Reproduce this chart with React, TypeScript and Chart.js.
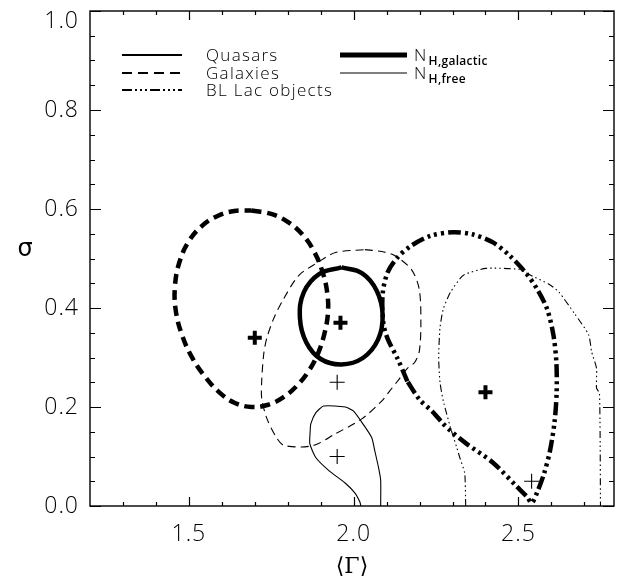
import React, { useEffect, useRef } from "react";
import { Chart, registerables } from "chart.js";

Chart.register(...registerables);

// ---------- data ----------
type P = { x: number; y: number };
const mk = (a: number[][]): P[] => a.map(([x, y]) => ({ x, y }));

const galaxiesGalactic = mk([
  [1.69, 0.597], [1.75, 0.59], [1.8, 0.574], [1.845, 0.548], [1.88, 0.514],
  [1.906, 0.472], [1.92, 0.43], [1.922, 0.39], [1.912, 0.35], [1.893, 0.31],
  [1.865, 0.274], [1.828, 0.243], [1.785, 0.219], [1.738, 0.204], [1.69, 0.2],
  [1.64, 0.208], [1.595, 0.228], [1.553, 0.258], [1.513, 0.296], [1.48, 0.344],
  [1.46, 0.396], [1.458, 0.446], [1.472, 0.494], [1.5, 0.535], [1.54, 0.566],
  [1.587, 0.586], [1.638, 0.596], [1.69, 0.597],
]);

const quasarsGalactic = mk([
  [1.963, 0.482], [2.026, 0.47], [2.07, 0.435], [2.088, 0.386], [2.074, 0.336],
  [2.028, 0.299], [1.963, 0.286], [1.9, 0.297], [1.856, 0.331], [1.837, 0.38],
  [1.849, 0.432], [1.896, 0.469], [1.963, 0.482],
]);

const blLacGalactic = mk([
  [2.163, 0.252], [2.133, 0.298], [2.103, 0.338], [2.09, 0.37], [2.088, 0.428],
  [2.103, 0.472], [2.133, 0.502], [2.175, 0.526], [2.234, 0.546], [2.3, 0.553],
  [2.36, 0.549], [2.424, 0.532], [2.473, 0.506], [2.521, 0.472], [2.557, 0.438],
  [2.587, 0.398], [2.606, 0.346], [2.615, 0.292], [2.616, 0.232], [2.61, 0.172],
  [2.596, 0.112], [2.578, 0.066], [2.557, 0.028], [2.54, 0.006], [2.527, 0.018],
  [2.497, 0.038], [2.422, 0.088], [2.342, 0.126], [2.294, 0.152], [2.272, 0.166],
  [2.24, 0.19], [2.2, 0.215], [2.163, 0.252],
]);

const galaxiesFree = mk([
  [2.034, 0.518], [2.085, 0.514], [2.124, 0.506], [2.175, 0.478], [2.199, 0.438],
  [2.204, 0.366], [2.199, 0.312], [2.185, 0.29], [2.163, 0.278], [2.133, 0.252],
  [2.109, 0.232], [2.085, 0.212], [2.025, 0.176], [1.945, 0.146], [1.876, 0.122],
  [1.79, 0.122], [1.766, 0.138], [1.736, 0.178], [1.721, 0.218], [1.721, 0.252],
  [1.727, 0.306], [1.736, 0.338], [1.757, 0.378], [1.787, 0.418], [1.834, 0.466],
  [1.891, 0.492], [1.945, 0.512], [2.034, 0.518],
]);

const quasarsFree = mk([
  [2.022, 0.0], [2.019, 0.008], [2.004, 0.026], [1.975, 0.046], [1.924, 0.072],
  [1.885, 0.098], [1.867, 0.126], [1.868, 0.15], [1.87, 0.166], [1.885, 0.188],
  [1.909, 0.202], [1.975, 0.2], [1.999, 0.192], [2.028, 0.166], [2.055, 0.138],
  [2.064, 0.112], [2.076, 0.076], [2.082, 0.052], [2.082, 0.0],
]);

const blLacFree = mk([
  [2.34, 0.0], [2.337, 0.066], [2.322, 0.098], [2.313, 0.118], [2.294, 0.158],
  [2.272, 0.212], [2.262, 0.25], [2.258, 0.3], [2.262, 0.36], [2.272, 0.398],
  [2.294, 0.432], [2.333, 0.466], [2.401, 0.48], [2.502, 0.478], [2.531, 0.468],
  [2.593, 0.448], [2.623, 0.432], [2.671, 0.388], [2.713, 0.346], [2.722, 0.312],
  [2.737, 0.278], [2.737, 0.238], [2.746, 0.228], [2.749, 0.0],
]);

const thickCrosses = mk([[1.7, 0.34], [1.96, 0.37], [2.4, 0.23]]);
const thinCrosses = mk([[1.95, 0.25], [1.95, 0.1], [2.54, 0.05]]);

const xRange = [1.2, 2.79];
const yRange = [0, 1.0];
const xMajorTicks = [1.5, 2.0, 2.5];
const xTickLabels = ["1.5", "2.0", "2.5"];
const xMinorTicks = [1.3, 1.4, 1.6, 1.7, 1.8, 1.9, 2.1, 2.2, 2.3, 2.4, 2.6, 2.7];
const yMajorTicks = [0.0, 0.2, 0.4, 0.6, 0.8, 1.0];
const yTickLabels = ["0.0", "0.2", "0.4", "0.6", "0.8", "1.0"];
const yMinorTicks = [0.05, 0.1, 0.15, 0.25, 0.3, 0.35, 0.45, 0.5, 0.55, 0.65, 0.7, 0.75, 0.85, 0.9, 0.95];
const xTitle = "⟨Γ⟩";
const yTitle = "σ";
const legendLeft = ["Quasars", "Galaxies", "BL Lac objects"];
const legendRight = [
  { main: "N", sub: "H,galactic" },
  { main: "N", sub: "H,free" },
];

// ---------- styles ----------
const THICK = 4.5;
const THIN = 1.1;
const dashThick = [10, 6];
const dashThin = [8, 5];
const dashDotThick = [13, 4, 3, 4, 3, 4, 3, 4];
const dashDotThin = [7, 3, 1.5, 3, 1.5, 3, 1.5, 3];
const FONT = '"Open Sans", "DejaVu Sans", sans-serif';

const lineDs = (data: P[], width: number, dash: number[], tension = 0.3) => ({
  data,
  showLine: true,
  borderColor: "#000",
  borderWidth: width,
  borderDash: dash,
  borderCapStyle: "butt" as const,
  borderJoinStyle: "round" as const,
  pointRadius: 0,
  tension,
  fill: false,
});

const framePlugin = {
  id: "idlFrame",
  afterDraw(chart: any) {
    const ctx: CanvasRenderingContext2D = chart.ctx;
    const { left, right, top, bottom } = chart.chartArea;
    const xs = chart.scales.x;
    const ys = chart.scales.y;
    ctx.save();
    ctx.strokeStyle = "#000";
    ctx.fillStyle = "#000";
    ctx.setLineDash([]);
    ctx.lineWidth = 1.4;
    ctx.strokeRect(left, top, right - left, bottom - top);

    const tickX = (v: number, len: number) => {
      const px = Math.round(xs.getPixelForValue(v)) + 0.5;
      ctx.beginPath();
      ctx.moveTo(px, bottom);
      ctx.lineTo(px, bottom - len);
      ctx.moveTo(px, top);
      ctx.lineTo(px, top + len);
      ctx.stroke();
    };
    const tickY = (v: number, len: number) => {
      const py = Math.round(ys.getPixelForValue(v)) + 0.5;
      ctx.beginPath();
      ctx.moveTo(left, py);
      ctx.lineTo(left + len, py);
      ctx.moveTo(right, py);
      ctx.lineTo(right - len, py);
      ctx.stroke();
    };
    ctx.lineWidth = 1.2;
    xMajorTicks.forEach((v) => tickX(v, 9));
    xMinorTicks.forEach((v) => tickX(v, 4));
    yMajorTicks.forEach((v) => tickY(v, 11));
    yMinorTicks.forEach((v) => tickY(v, 5));

    // tick labels
    ctx.font = `300 23px ${FONT}`;
    (ctx as any).letterSpacing = "1px";
    ctx.textAlign = "center";
    ctx.textBaseline = "middle";
    xMajorTicks.forEach((v, i) => {
      ctx.fillText(xTickLabels[i], xs.getPixelForValue(v), bottom + 28);
    });
    ctx.textAlign = "right";
    yMajorTicks.forEach((v, i) => {
      let py = ys.getPixelForValue(v);
      if (py < top + 10) py = top + 10;
      ctx.fillText(yTickLabels[i], left - 11, py);
    });
    (ctx as any).letterSpacing = "0px";

    // axis titles
    ctx.textAlign = "center";
    ctx.font = `22px "DejaVu Serif", serif`;
    ctx.fillText(xTitle, (left + right) / 2, bottom + 61);
    ctx.font = `24px "DejaVu Sans", sans-serif`;
    ctx.fillText(yTitle, 25, 250);

    // legend
    const rows = [55, 73, 90];
    const drawSample = (x0: number, x1: number, y: number, w: number, dash: number[]) => {
      ctx.beginPath();
      ctx.setLineDash(dash);
      ctx.lineWidth = w;
      ctx.lineCap = "butt";
      ctx.moveTo(x0, y);
      ctx.lineTo(x1, y);
      ctx.stroke();
      ctx.setLineDash([]);
    };
    drawSample(122, 182, rows[0], 2, []);
    drawSample(122, 182, rows[1], 2, [10, 6]);
    drawSample(122, 182, rows[2], 2, [10, 3, 2, 3, 2, 3, 2, 3]);
    drawSample(340, 407, rows[0], 5, []);
    drawSample(340, 407, rows[1], 1.2, []);

    ctx.textAlign = "left";
    ctx.font = `300 17px ${FONT}`;
    (ctx as any).letterSpacing = "1.3px";
    legendLeft.forEach((t, i) => ctx.fillText(t, 206, rows[i] + 1));
    legendRight.forEach((t, i) => {
      ctx.font = `300 17px ${FONT}`;
      (ctx as any).letterSpacing = "1.3px";
      ctx.fillText(t.main, 414, rows[i] + 1);
      const w = ctx.measureText(t.main).width;
      ctx.font = `600 12px ${FONT}`;
      (ctx as any).letterSpacing = "0.3px";
      ctx.fillText(t.sub, 414 + w + 1, rows[i] + 7);
    });
    ctx.restore();
  },
};

export default function App() {
  const ref = useRef<HTMLCanvasElement | null>(null);
  useEffect(() => {
    if (!ref.current) return;
    const chart = new Chart(ref.current, {
      type: "scatter",
      data: {
        datasets: [
          lineDs(galaxiesGalactic, THICK, dashThick, 0.4),
          lineDs(quasarsGalactic, THICK, [], 0.4),
          lineDs(blLacGalactic, THICK, dashDotThick),
          lineDs(galaxiesFree, THIN, dashThin),
          lineDs(quasarsFree, THIN, [], 0.2),
          lineDs(blLacFree, THIN, dashDotThin, 0.2),
          {
            data: thickCrosses,
            showLine: false,
            pointStyle: "cross",
            pointRadius: 7,
            pointBorderWidth: 4,
            pointBorderColor: "#000",
            pointBackgroundColor: "#000",
          },
          {
            data: thinCrosses,
            showLine: false,
            pointStyle: "cross",
            pointRadius: 7.5,
            pointBorderWidth: 1.1,
            pointBorderColor: "#000",
            pointBackgroundColor: "#000",
          },
        ] as any,
      },
      options: {
        animation: false,
        responsive: false,
        devicePixelRatio: 1,
        layout: { padding: { left: 90, right: 2, top: 6, bottom: 77 } },
        plugins: { legend: { display: false }, tooltip: { enabled: false } },
        events: [],
        scales: {
          x: { type: "linear", min: xRange[0], max: xRange[1], display: false },
          y: { type: "linear", min: yRange[0], max: yRange[1], display: false },
        },
      },
      plugins: [framePlugin],
    });
    return () => chart.destroy();
  }, []);
  return (
    <div style={{ position: "fixed", left: 0, top: 0, width: 625, height: 583, background: "#fff" }}>
      <canvas ref={ref} width={625} height={583} style={{ display: "block" }} />
    </div>
  );
}
